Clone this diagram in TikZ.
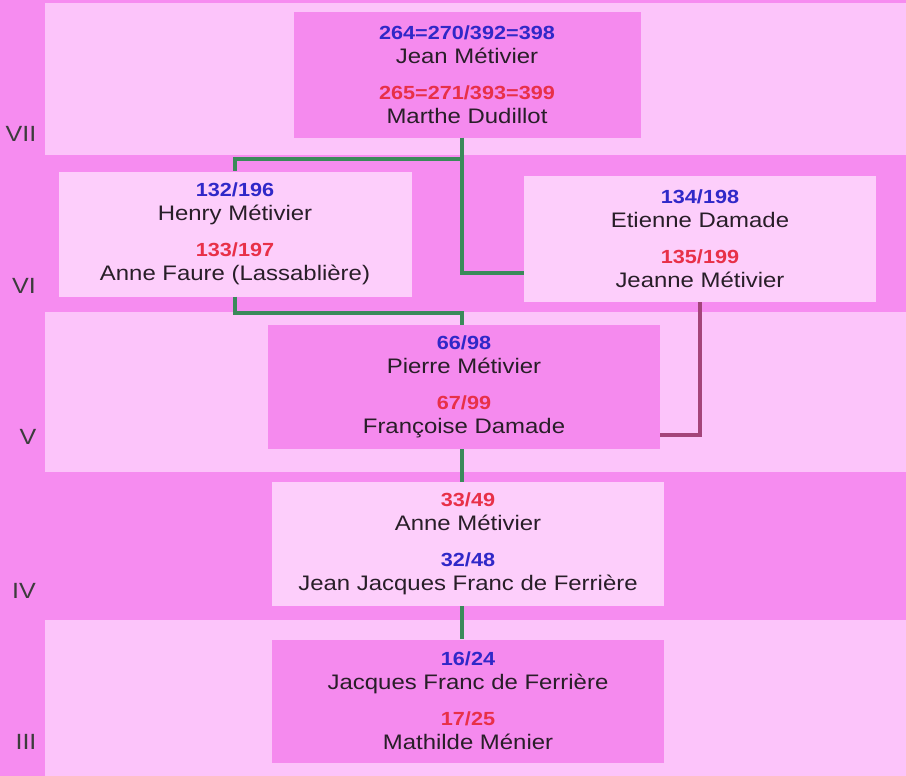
\documentclass[tikz,border=0pt]{standalone}
\usepackage{fontspec}
\setmainfont[FakeStretch=1.14]{Liberation Sans}
\usepackage{tikz, xcolor}

\definecolor{bgdark}{RGB}{246,140,240}
\definecolor{bglight}{RGB}{252,196,250}
\definecolor{boxdark}{RGB}{245,138,238}
\definecolor{boxlight}{RGB}{253,206,251}
\definecolor{numblue}{RGB}{48,40,200}
\definecolor{numred}{RGB}{232,48,72}
\definecolor{namecol}{RGB}{40,30,40}
\definecolor{gencol}{RGB}{60,60,60}
\definecolor{linegreen}{RGB}{58,138,90}
\definecolor{linepurple}{RGB}{164,68,122}

\newcommand{\bluenum}[1]{{\color{numblue}\fontsize{19}{24}\selectfont\bfseries #1}}
\newcommand{\rednum}[1]{{\color{numred}\fontsize{19}{24}\selectfont\bfseries #1}}

\begin{document}
\begin{tikzpicture}[x=1pt, y=-1pt]
\tikzstyle{boxd}=[rectangle, fill=boxdark, align=center, inner sep=0pt, text=namecol, font=\fontsize{21}{24}\selectfont]
\tikzstyle{boxl}=[boxd, fill=boxlight]
\tikzstyle{gen}=[text=gencol, font=\fontsize{22}{24}\selectfont]
\tikzstyle{greenline}=[line width=4pt, draw=linegreen]
\tikzstyle{purpleline}=[line width=4pt, draw=linepurple]

\useasboundingbox (0,0) rectangle (906,776);
% generation bands
\fill[bgdark] (0,0) rectangle (906,776);
\fill[bglight] (45,3) rectangle (906,155);
\fill[bglight] (45,312) rectangle (906,472);
\fill[bglight] (45,620) rectangle (906,776);

\node[gen] (L7) at (21,134) {VII};
\node[gen] (L6) at (24,286) {VI};
\node[gen] (L5) at (28,437) {V};
\node[gen] (L4) at (24,591) {IV};
\node[gen] (L3) at (26,742) {III};

\node[boxd, minimum width=347pt, minimum height=125pt] (G7x0) at (467,75) {\bluenum{264=270/392=398}\\Jean Métivier\\[12pt]\rednum{265=271/393=399}\\Marthe Dudillot};
\node[boxl, minimum width=353pt, minimum height=125pt] (G6x0) at (235,234) {\bluenum{132/196}\\Henry Métivier\\[12pt]\rednum{133/197}\\Anne Faure (Lassablière)};
\node[boxl, minimum width=352pt, minimum height=126pt] (G6x1) at (700,239) {\bluenum{134/198}\\Etienne Damade\\[12pt]\rednum{135/199}\\Jeanne Métivier};
\node[boxd, minimum width=392pt, minimum height=124pt] (G5x0) at (464,387) {\bluenum{66/98}\\Pierre Métivier\\[12pt]\rednum{67/99}\\Françoise Damade};
\node[boxl, minimum width=392pt, minimum height=124pt] (G4x0) at (468,544) {\rednum{33/49}\\Anne Métivier\\[12pt]\bluenum{32/48}\\Jean Jacques Franc de Ferrière};
\node[boxd, minimum width=392pt, minimum height=123pt] (G3x0) at (468,701) {\bluenum{16/24}\\Jacques Franc de Ferrière\\[12pt]\rednum{17/25}\\Mathilde Ménier};

\coordinate (J7) at (462,159);
\coordinate (J6) at (462,273);
\coordinate (J5) at (462,313);
\coordinate (J5b) at (660,435);
\draw[greenline] (J7 |- G7x0.south) -- (J7) -| (G6x0.north);
\draw[greenline] (J7) -- (J6) -- (J6 -| G6x1.west);
\draw[greenline] (G6x0.south) |- (J5) -- (J5 |- G5x0.north);
\draw[purpleline] (G6x1.south) |- (J5b);
\draw[greenline] (J5 |- G5x0.south) -- (J5 |- G4x0.north);
\draw[greenline] (J5 |- G4x0.south) -- (J5 |- G3x0.north);
\end{tikzpicture}
\end{document}
